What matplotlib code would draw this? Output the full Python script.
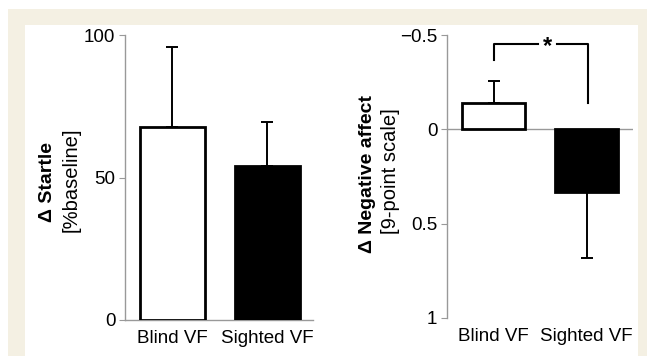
import matplotlib
matplotlib.use("Agg")
import matplotlib.pyplot as plt
from matplotlib.patches import Rectangle

plt.rcParams['font.family'] = ['Liberation Sans', 'DejaVu Sans']

categories = ["Blind VF", "Sighted VF"]
startle_mean = [67.7, 54.0]
startle_err = [28.0, 15.5]
affect_mean = [-0.14, 0.33]
affect_err = [0.115, 0.35]
bar_colors = ["white", "black"]

W, H = 655, 356
fig = plt.figure(figsize=(W / 100, H / 100), dpi=100)
fig.patch.set_facecolor("white")
fig.patches.append(Rectangle((8 / W, 0), (647 - 8) / W, (H - 9) / H,
                             transform=fig.transFigure, facecolor="#f4f0e3",
                             edgecolor="none", zorder=-2))
fig.patches.append(Rectangle((25 / W, 0), (638 - 25) / W, (H - 25) / H,
                             transform=fig.transFigure, facecolor="white",
                             edgecolor="none", zorder=-1))

spine_col = "#999999"
fs = 13.5

# Left panel
ax1 = fig.add_axes([125 / W, (H - 320) / H, 188 / W, 285 / H])
ax1.patch.set_alpha(0)
x = [0, 1]
ax1.bar(x, startle_mean, width=0.68, color=bar_colors, edgecolor="black",
        linewidth=2, zorder=3)
for xi, m, e in zip(x, startle_mean, startle_err):
    ax1.errorbar(xi, m, yerr=[[0], [e]], fmt="none", ecolor="black",
                 elinewidth=1.4, capsize=4, capthick=1.4, zorder=2)
ax1.set_xlim(-0.5, 1.48)
ax1.set_ylim(0, 100)
ax1.set_yticks([0, 50, 100])
ax1.set_yticklabels(["0", "50", "100"])
ax1.set_xticks(x)
ax1.set_xticklabels(categories)
for s in ["top", "right"]:
    ax1.spines[s].set_visible(False)
for s in ["left", "bottom"]:
    ax1.spines[s].set_color(spine_col)
    ax1.spines[s].set_linewidth(1.0)
ax1.tick_params(axis="y", colors=spine_col, labelcolor="black", labelsize=fs,
                length=4, pad=3)
ax1.tick_params(axis="x", length=0, labelsize=fs, pad=7)
fig.text(47 / W, 1 - 182 / H, "Δ Startle", rotation=90, fontsize=14,
         fontweight="bold", ha="center", va="center")
fig.text(71 / W, 1 - 180 / H, "[%baseline]", rotation=90, fontsize=14.5,
         ha="center", va="center")

# Right panel
ax2 = fig.add_axes([447 / W, (H - 318) / H, 186 / W, 283 / H])
ax2.patch.set_alpha(0)
ax2.bar(x, affect_mean, width=0.68, color=bar_colors, edgecolor="black",
        linewidth=2, zorder=3)
for xi, m, e in zip(x, affect_mean, affect_err):
    lo, hi = ([e], [0]) if m < 0 else ([0], [e])
    ax2.errorbar(xi, m, yerr=[lo, hi], fmt="none", ecolor="black",
                 elinewidth=1.4, capsize=4, capthick=1.4, zorder=2)
ax2.axhline(0, color=spine_col, linewidth=1.0, zorder=1)
ax2.set_xlim(-0.5, 1.5)
ax2.set_ylim(1, -0.5)
ax2.set_yticks([-0.5, 0, 0.5, 1])
ax2.set_yticklabels(["\u22120.5", "0", "0.5", "1"])
ax2.set_xticks(x)
ax2.set_xticklabels(categories)
for s in ["top", "right", "bottom"]:
    ax2.spines[s].set_visible(False)
ax2.spines["left"].set_color(spine_col)
ax2.spines["left"].set_linewidth(1.0)
ax2.tick_params(axis="y", colors=spine_col, labelcolor="black", labelsize=fs,
                length=4, pad=3)
ax2.tick_params(axis="x", length=0, labelsize=fs, pad=7)

# significance bracket
ax2.plot([0, 0, 0.48], [-0.37, -0.45, -0.45], color="black", lw=1.5,
         clip_on=False)
ax2.plot([0.68, 1.02, 1.02], [-0.45, -0.45, -0.14], color="black", lw=1.5,
         clip_on=False)
ax2.text(0.58, -0.44, "*", fontsize=17, fontweight="bold", ha="center",
         va="center")

fig.text(368 / W, 1 - 174 / H, "Δ Negative affect", rotation=90,
         fontsize=14, fontweight="bold", ha="center", va="center")
fig.text(391 / W, 1 - 171 / H, "[9-point scale]", rotation=90, fontsize=14.5,
         ha="center", va="center")

fig.savefig("out.png", dpi=100)
